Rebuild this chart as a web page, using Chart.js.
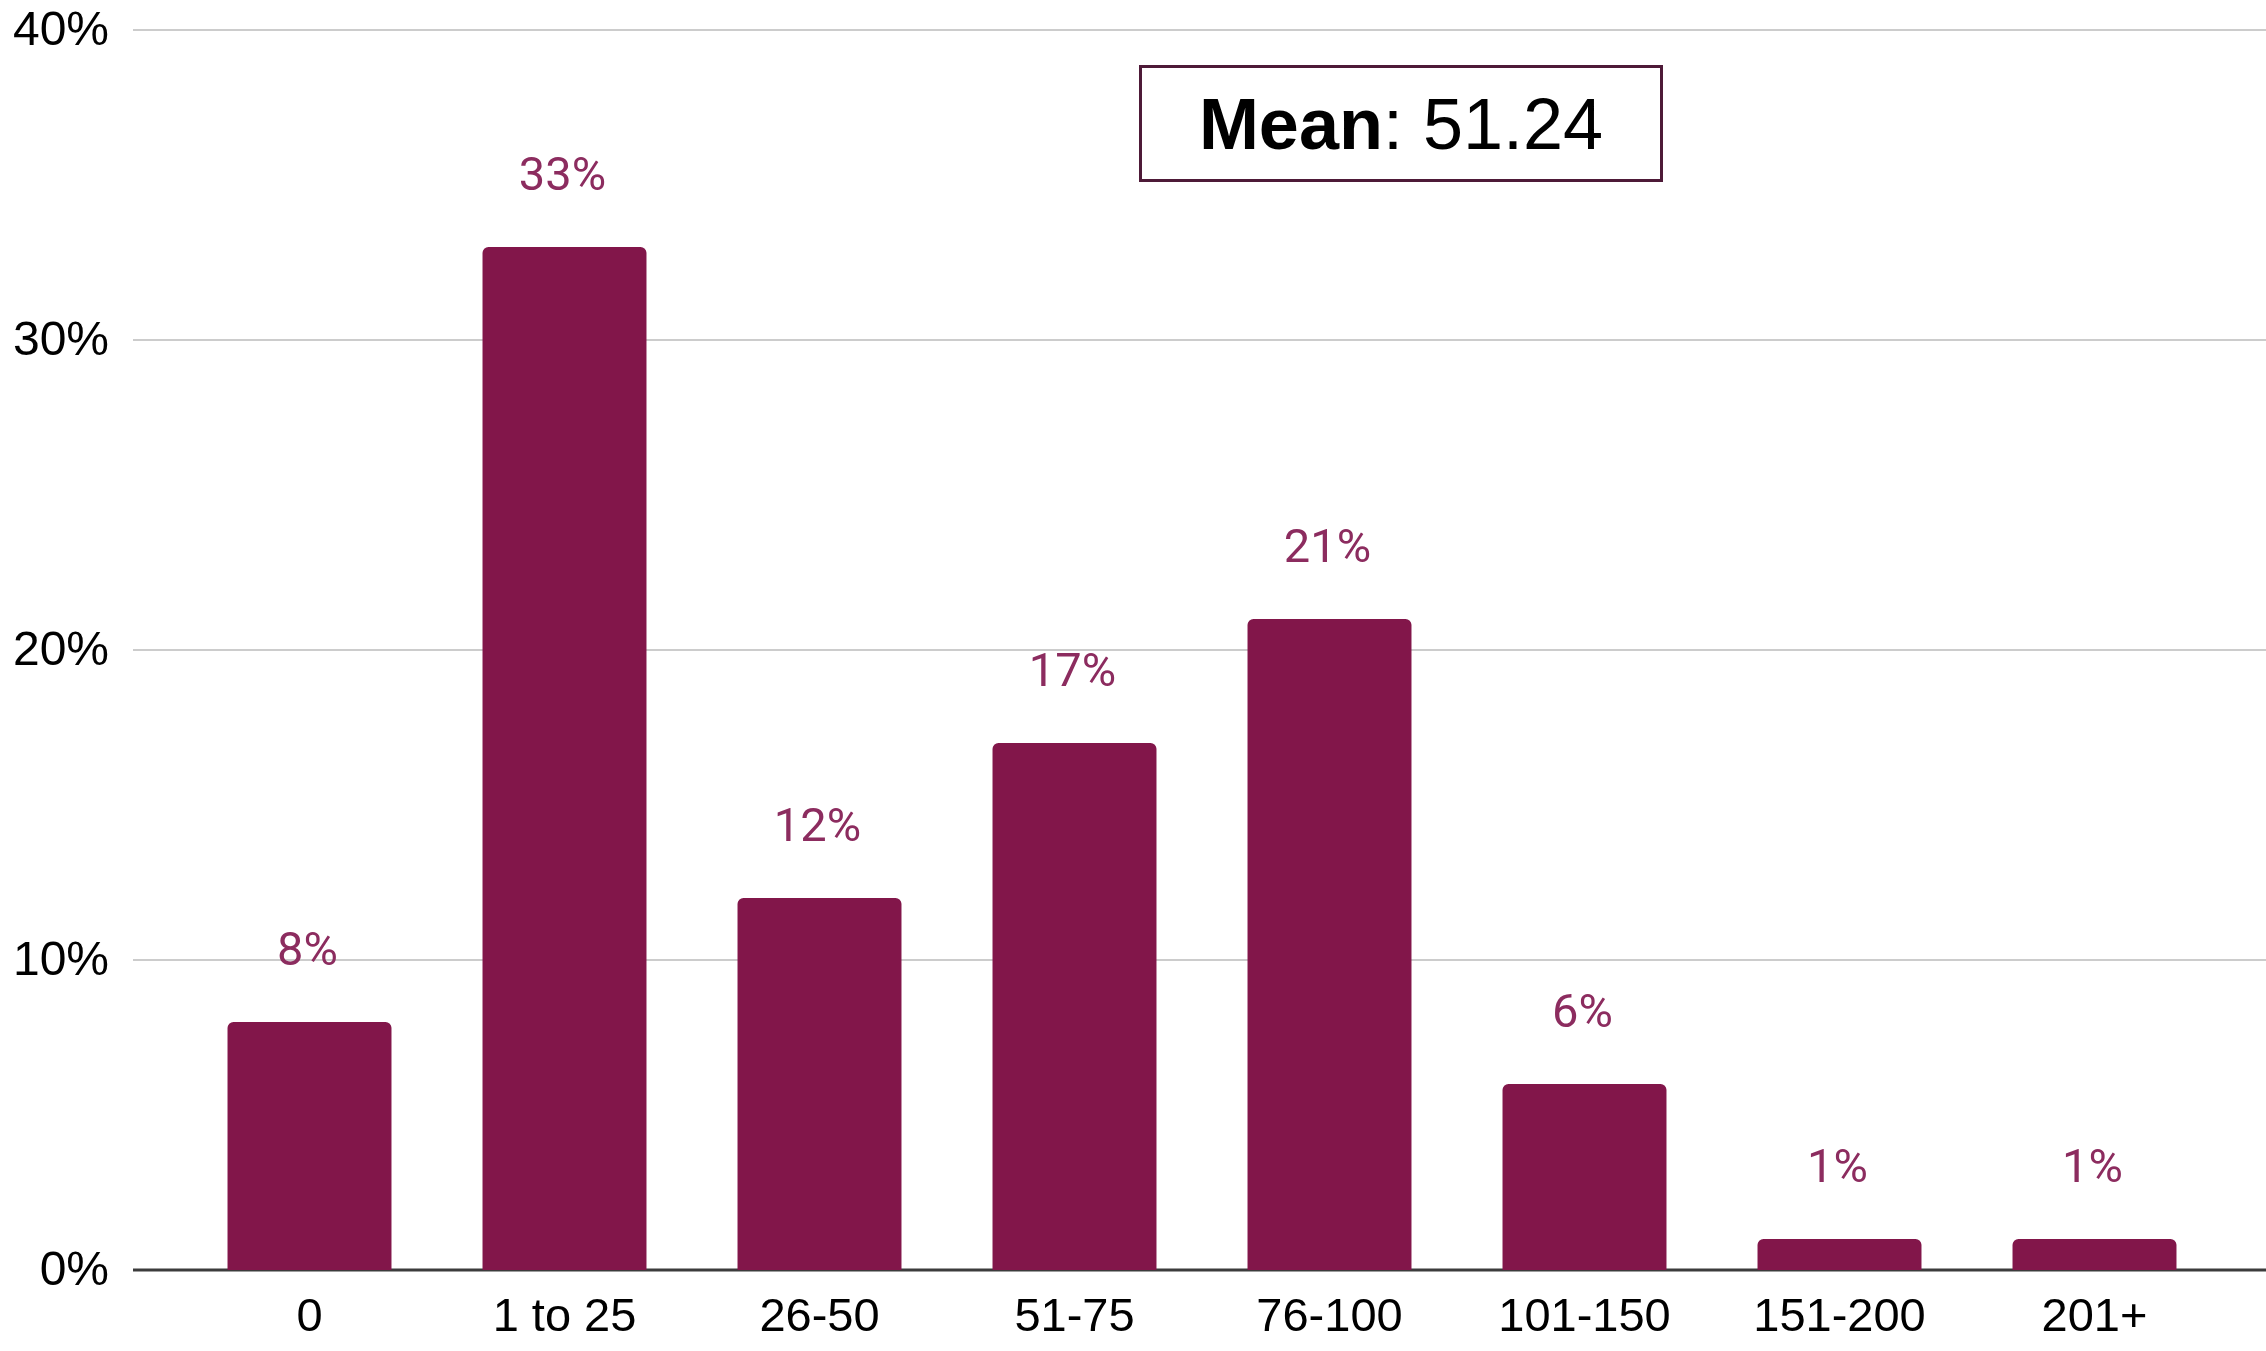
<!DOCTYPE html>
<html>
<head>
<meta charset="utf-8">
<script src="https://cdn.jsdelivr.net/npm/chart.js@4/dist/chart.umd.min.js"></script>
<style>
  html, body { margin: 0; padding: 0; background: #fff; }
  #wrap { position: relative; width: 2266px; height: 1351px; }
  #meanBox {
    position: absolute; left: 1139px; top: 65px; width: 518px; height: 111px;
    border: 3px solid #4e1a38; box-sizing: content-box;
    font-family: "Liberation Sans", Arial, sans-serif; font-size: 72px; color: #000;
    display: flex; align-items: center; justify-content: center;
  }
</style>
</head>
<body>
<div id="wrap">
  <canvas id="c" width="2266" height="1351"></canvas>
  <div id="meanBox"><span><b>Mean</b>: 51.24</span></div>
</div>
<script>
(function () {
    'use strict';

    var categories = ['0', '1 to 25', '26-50', '51-75', '76-100', '101-150', '151-200', '201+'];
    var shares = [8, 33, 12, 17, 21, 6, 1, 1];
    var yTicks = [0, 10, 20, 30, 40];

    var barColor = '#82164a';
    var labelColor = '#8c2c5f';

    // grid lines + y labels drawn by hand so lines run past the bars
    var fullGrid = {
        id: 'fullGrid',
        beforeDatasetsDraw: function (chart) {
            var y = chart.scales.y, ctx = chart.ctx;
            ctx.save();
            ctx.font = '48px "Liberation Sans", Arial, sans-serif';
            ctx.fillStyle = '#000';
            ctx.textAlign = 'right';
            ctx.textBaseline = 'middle';
            yTicks.forEach(function (v) {
                var py = Math.round(y.getPixelForValue(v));
                ctx.beginPath();
                ctx.lineWidth = v === 0 ? 3 : 2;
                ctx.strokeStyle = v === 0 ? '#3c3c3c' : '#cccccc';
                ctx.moveTo(133, py);
                ctx.lineTo(chart.width, py);
                ctx.stroke();
                ctx.fillText(v + '%', 109, py + 2);
            });
            ctx.restore();
        }
    };

    var barLabels = {
        id: 'barLabels',
        afterDatasetsDraw: function (chart) {
            var ctx = chart.ctx;
            var meta = chart.getDatasetMeta(0);
            ctx.save();
            ctx.font = '47px Roboto, "Liberation Sans", sans-serif';
            ctx.fillStyle = labelColor;
            ctx.textAlign = 'center';
            ctx.textBaseline = 'middle';
            meta.data.forEach(function (bar, i) {
                ctx.fillText(shares[i] + '%', bar.x - 2, bar.y - 69);
            });
            ctx.restore();
        }
    };

    new Chart(document.getElementById('c'), {
        type: 'bar',
        data: {
            labels: categories,
            datasets: [{
                data: shares,
                backgroundColor: barColor,
                borderRadius: { topLeft: 6, topRight: 6 },
                borderSkipped: 'start',
                barPercentage: 0.643,
                categoryPercentage: 1
            }]
        },
        options: {
            responsive: false,
            animation: false,
            layout: { padding: { left: 0, right: 44, top: 30, bottom: 0 } },
            plugins: { legend: { display: false }, tooltip: { enabled: false } },
            scales: {
                x: {
                    grid: { display: false, drawTicks: false },
                    border: { display: false },
                    ticks: {
                        color: '#000',
                        padding: 20,
                        font: { family: '"Liberation Sans", Arial, sans-serif', size: 47 }
                    },
                    afterFit: function (s) { s.height = 81; }
                },
                y: {
                    min: 0, max: 40,
                    grid: { display: false, drawTicks: false },
                    border: { display: false },
                    ticks: { display: false },
                    afterFit: function (s) { s.width = 182; }
                }
            }
        },
        plugins: [fullGrid, barLabels]
    });
})();
</script>
</body>
</html>
